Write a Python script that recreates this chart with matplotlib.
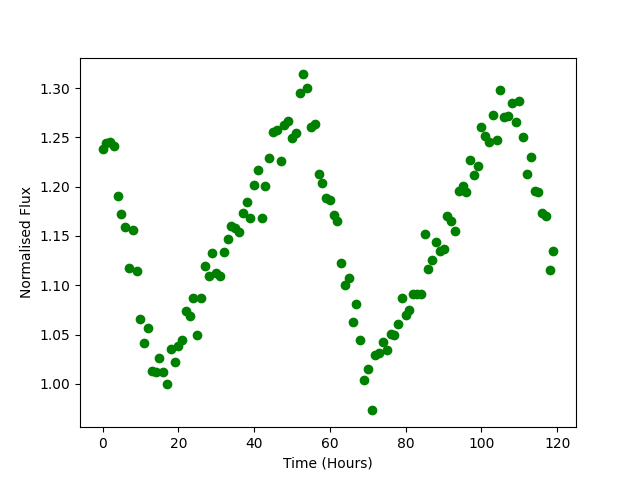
import numpy as np
import matplotlib
matplotlib.use('Agg')
import matplotlib.pyplot as plt

# hours 0..119
hours = np.arange(120)

flux = [
    1.238, 1.244, 1.245, 1.241, 1.191, 1.172, 1.159, 1.118, 1.156, 1.114,
    1.066, 1.041, 1.057, 1.013, 1.012, 1.026, 1.012, 1.000, 1.035, 1.022,
    1.038, 1.044, 1.074, 1.069, 1.087, 1.050, 1.087, 1.120, 1.109, 1.133,
    1.112, 1.109, 1.134, 1.147, 1.160, 1.158, 1.154, 1.173, 1.184, 1.168,
    1.202, 1.217, 1.168, 1.201, 1.229, 1.256, 1.258, 1.226, 1.263, 1.267,
    1.249, 1.255, 1.295, 1.314, 1.300, 1.261, 1.264, 1.213, 1.204, 1.189,
    1.187, 1.171, 1.165, 1.123, 1.100, 1.107, 1.063, 1.081, 1.044, 1.004,
    1.015, 0.973, 1.029, 1.031, 1.042, 1.034, 1.051, 1.050, 1.061, 1.087,
    1.070, 1.075, 1.091, 1.091, 1.091, 1.152, 1.117, 1.126, 1.144, 1.135,
    1.137, 1.170, 1.165, 1.155, 1.196, 1.201, 1.195, 1.227, 1.212, 1.221,
    1.261, 1.251, 1.245, 1.273, 1.247, 1.298, 1.271, 1.272, 1.285, 1.266,
    1.287, 1.250, 1.213, 1.230, 1.196, 1.195, 1.173, 1.170, 1.115, 1.135,
]


def main():

    fig, ax = plt.subplots(figsize=(6.4, 4.8), dpi=100)

    ax.plot(hours, flux, 'o', color='green')

    ax.set_xlabel("Time (Hours)")
    ax.set_ylabel("Normalised Flux")

    plt.savefig("out.png", dpi=100)
    plt.close()


if __name__ == "__main__":
    main()
